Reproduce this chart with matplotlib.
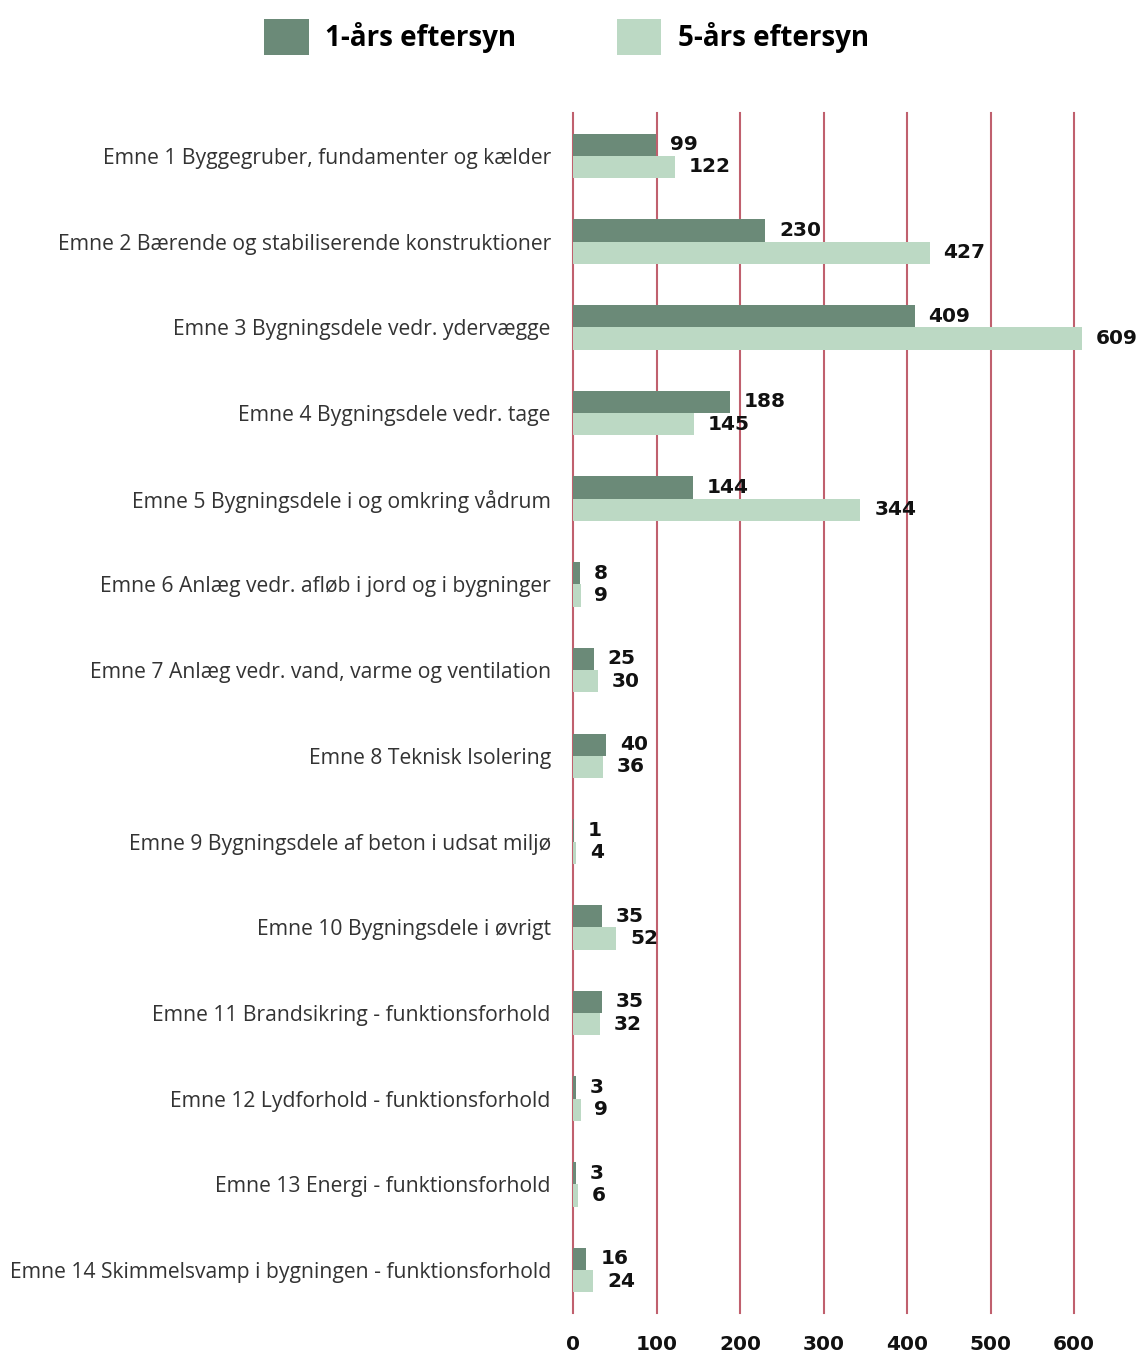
import numpy as np
import matplotlib
matplotlib.use("Agg")
from matplotlib import pyplot as plt

categories = [
    "Emne 1 Byggegruber, fundamenter og kælder",
    "Emne 2 Bærende og stabiliserende konstruktioner",
    "Emne 3 Bygningsdele vedr. ydervægge",
    "Emne 4 Bygningsdele vedr. tage",
    "Emne 5 Bygningsdele i og omkring vådrum",
    "Emne 6 Anlæg vedr. afløb i jord og i bygninger",
    "Emne 7 Anlæg vedr. vand, varme og ventilation",
    "Emne 8 Teknisk Isolering",
    "Emne 9 Bygningsdele af beton i udsat miljø",
    "Emne 10 Bygningsdele i øvrigt",
    "Emne 11 Brandsikring - funktionsforhold",
    "Emne 12 Lydforhold - funktionsforhold",
    "Emne 13 Energi - funktionsforhold",
    "Emne 14 Skimmelsvamp i bygningen - funktionsforhold",
]
one_year = [99, 230, 409, 188, 144, 8, 25, 40, 1, 35, 35, 3, 3, 16]
five_year = [122, 427, 609, 145, 344, 9, 30, 36, 4, 52, 32, 9, 6, 24]
series_names = ["1-års eftersyn", "5-års eftersyn"]
x_ticks = [0, 100, 200, 300, 400, 500, 600]

dark = "#6b8a78"
light = "#bcd9c4"
grid_col = "#c0606e"
num_font = ["DejaVu Sans"]

plt.rcParams["font.family"] = ["Open Sans", "DejaVu Sans"]

fig = plt.figure(figsize=(11.41, 13.53), dpi=100)
ax = fig.add_axes([573 / 1141, 1 - 1313 / 1353, 1 - 573 / 1141, 1200 / 1353])

y = np.arange(len(categories))
h = 0.26
b1 = ax.barh(y - h / 2, one_year, height=h, color=dark, zorder=3, label=series_names[0])
b2 = ax.barh(y + h / 2, five_year, height=h, color=light, zorder=3, label=series_names[1])

for yi, v in zip(y, one_year):
    ax.annotate(str(v), (v, yi - h / 2), xytext=(10, 0), textcoords="offset points",
                va="center", ha="left", fontsize=14.5, fontweight="bold",
                family=num_font, color="#111111")
for yi, v in zip(y, five_year):
    ax.annotate(str(v), (v, yi + h / 2), xytext=(10, 0), textcoords="offset points",
                va="center", ha="left", fontsize=14.5, fontweight="bold",
                family=num_font, color="#111111")

ax.set_xlim(0, 680)
ax.set_ylim(len(categories) - 0.5, -0.5)
ax.set_xticks(x_ticks)
ax.set_xticklabels([str(t) for t in x_ticks], fontsize=14.5, fontweight="bold",
                   family=num_font, color="#111111")
ax.set_yticks(y)
ax.set_yticklabels(categories, fontsize=15.2, color="#333333")
ax.tick_params(axis="both", length=0)
ax.tick_params(axis="x", pad=16)
ax.tick_params(axis="y", pad=16)

for s in ax.spines.values():
    s.set_visible(False)
for t in x_ticks:
    ax.axvline(t, color=grid_col, lw=1.5, zorder=1, clip_on=False)

fig.legend(handles=[b1, b2], loc="center", bbox_to_anchor=(0.4965, 1 - 37 / 1353),
           ncol=2, frameon=False, prop={"size": 20, "weight": "bold"},
           handlelength=1.6, handleheight=1.6, handletextpad=0.6, columnspacing=3.6)

fig.savefig("out.png", dpi=100)
